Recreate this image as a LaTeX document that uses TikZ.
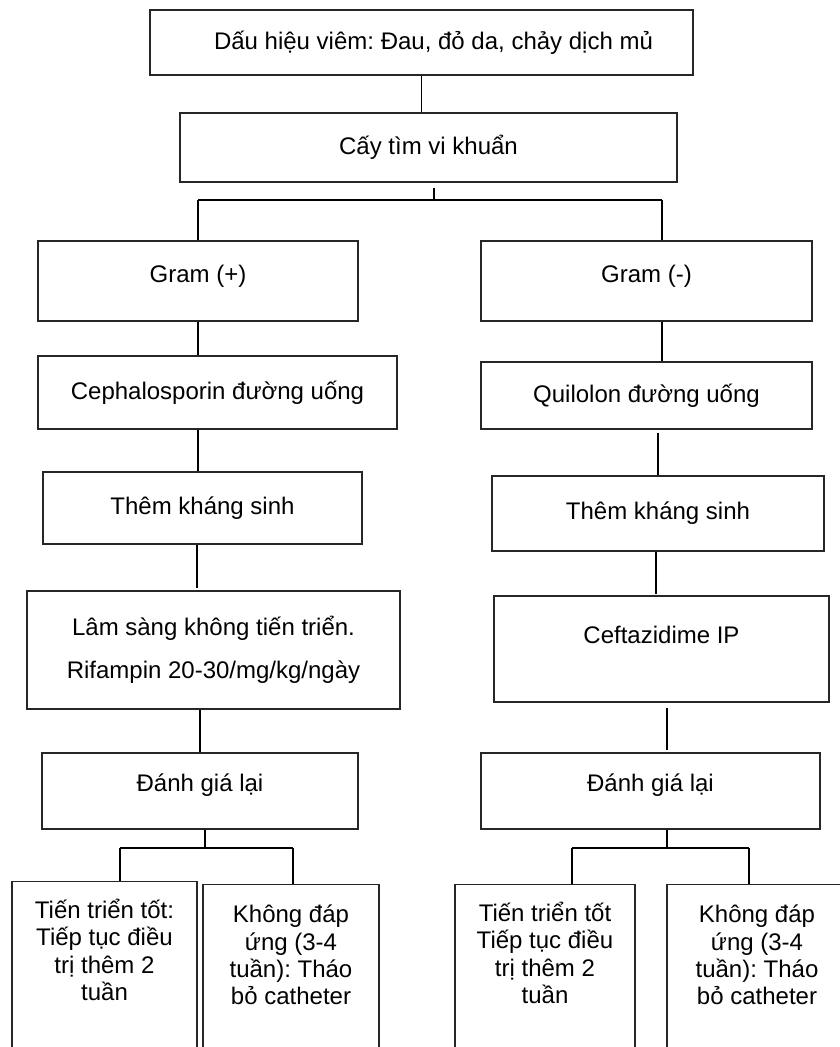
\documentclass[tikz,border=0pt]{standalone}
\usepackage{fontspec}
\setmainfont{Liberation Sans}
\frenchspacing
\begin{document}
\begin{tikzpicture}[
	  x=1pt, y=-1pt,
	  box/.style={draw=black!85, line width=1.3pt, rectangle, inner sep=0pt,
	    font=\fontsize{24}{27.6}\selectfont},
	  note/.style={font=\fontsize{24}{27.3}\selectfont, align=center, inner sep=0pt},
	  conn/.style={draw=black, line width=1.2pt},
	  bar/.style={draw=black, line width=2pt}]
	  \useasboundingbox (0,0) rectangle (840,1047);
	  \clip (0,0) rectangle (840,1047);
	  \node[box, minimum width=543pt, minimum height=65pt] (sign) at (421.5,42.5) {\hspace*{24pt}Dấu hiệu viêm: Đau, đỏ da, chảy dịch mủ};
	  \node[box, minimum width=497pt, minimum height=69pt] (culture) at (428.5,147.5) {Cấy tìm vi khuẩn};
	  \coordinate (splitA) at (434,200);
	  % left branch
	  \node[box, minimum width=320pt, minimum height=80pt, text depth=14pt] (gpos) at (198,281) {Gram (+)};
	  \node[box, minimum width=359pt, minimum height=73pt] (cepha) at (217.5,392.5) {Cephalosporin đường uống};
	  \node[box, minimum width=319pt, minimum height=72pt] (addpos) at (202.5,508) {Thêm kháng sinh};
	  \node[box, minimum width=373pt, minimum height=118pt, align=center] (rifam) at (213.5,650) {Lâm sàng không tiến triển.\\[15.4pt]Rifampin 20-30/mg/kg/ngày};
	  \node[box, minimum width=316pt, minimum height=76pt, text depth=17pt] (evalpos) at (200,791) {Đánh giá lại};
	  \node[box, anchor=north, minimum width=185pt, minimum height=200pt] (goodpos) at (104.5,881) {};
	  \node[box, anchor=north, minimum width=176pt, minimum height=200pt] (failpos) at (291,884) {};
	  \node[note, anchor=north] (goodposT) at ([yshift=-18pt]goodpos.north) {Tiến triển tốt:\\Tiếp tục điều\\trị thêm 2\\tuần};
	  \node[note, anchor=north] (failposT) at ([yshift=-21pt]failpos.north) {Không đáp\\ứng (3-4\\tuần): Tháo\\bỏ catheter};
	  \coordinate (splitB) at (205,848);
	  % right branch
	  \node[box, minimum width=331pt, minimum height=80pt, text depth=14pt] (gneg) at (646.5,281) {Gram (-)};
	  \node[box, minimum width=331pt, minimum height=67pt] (quino) at (646.5,395.5) {Quilolon đường uống};
	  \node[box, minimum width=332pt, minimum height=75pt] (addneg) at (658,513.5) {Thêm kháng sinh};
	  \node[box, minimum width=335pt, minimum height=106pt, text depth=28pt] (cefta) at (661.5,649) {Ceftazidime IP};
	  \node[box, minimum width=339pt, minimum height=76pt, text depth=17pt] (evalneg) at (650.5,791) {Đánh giá lại};
	  \node[box, anchor=north, minimum width=180pt, minimum height=200pt] (goodneg) at (545,884) {};
	  \node[box, anchor=north, minimum width=180pt, minimum height=200pt] (failneg) at (757,884) {};
	  \node[note, anchor=north] (goodnegT) at ([yshift=-18pt]goodneg.north) {Tiến triển tốt\\Tiếp tục điều\\trị thêm 2\\tuần};
	  \node[note, anchor=north] (failnegT) at ([yshift=-21pt]failneg.north) {Không đáp\\ứng (3-4\\tuần): Tháo\\bỏ catheter};
	  \coordinate (splitC) at (667,848);
	  % connectors
	  \draw[conn] (sign.south) -- (sign.south |- culture.north);
	  \draw[conn, shorten <=5pt] ([xshift=5.5pt]culture.south) -- (splitA);
	  \draw[bar] (gpos.north |- splitA) -- ([xshift=15.5pt]gneg.north |- splitA);
	  \draw[conn] (gpos.north |- splitA) -- (gpos.north);
	  \draw[conn] ([xshift=15.5pt]gneg.north |- splitA) -- ([xshift=15.5pt]gneg.north);
	  \draw[conn] (gpos.south) -- (gpos.south |- cepha.north);
	  \draw[conn] (gpos.south |- cepha.south) -- (gpos.south |- addpos.north);
	  \draw[conn, shorten >=2pt] ([xshift=-5.5pt]addpos.south) -- ([xshift=-5.5pt]addpos.south |- rifam.north);
	  \draw[conn] (evalpos.north |- rifam.south) -- (evalpos.north);
	  \draw[conn] ([xshift=15.5pt]gneg.south) -- ([xshift=15.5pt]gneg.south |- quino.north);
	  \draw[conn, shorten <=3pt] (addneg.north |- quino.south) -- (addneg.north);
	  \draw[conn, shorten >=1pt] ([xshift=-2pt]addneg.south) -- ([xshift=-2pt]addneg.south |- cefta.north);
	  \draw[conn, shorten <=5pt, shorten >=2pt] ([xshift=16.5pt]evalneg.north |- cefta.south) -- ([xshift=16.5pt]evalneg.north);
	  \draw[conn] ([xshift=5pt]evalpos.south) -- (splitB);
	  \draw[bar] ([xshift=15.5pt]goodpos.north |- splitB) -- ([xshift=2pt]failpos.north |- splitB);
	  \draw[conn] ([xshift=15.5pt]goodpos.north |- splitB) -- ([xshift=15.5pt]goodpos.north);
	  \draw[conn] ([xshift=2pt]failpos.north |- splitB) -- ([xshift=2pt]failpos.north);
	  \draw[conn] ([xshift=16.5pt]evalneg.south) -- (splitC);
	  \draw[bar] ([xshift=27pt]goodneg.north |- splitC) -- ([xshift=-8pt]failneg.north |- splitC);
	  \draw[conn] ([xshift=27pt]goodneg.north |- splitC) -- ([xshift=27pt]goodneg.north);
	  \draw[conn] ([xshift=-8pt]failneg.north |- splitC) -- ([xshift=-8pt]failneg.north);
	\end{tikzpicture}
\end{document}
